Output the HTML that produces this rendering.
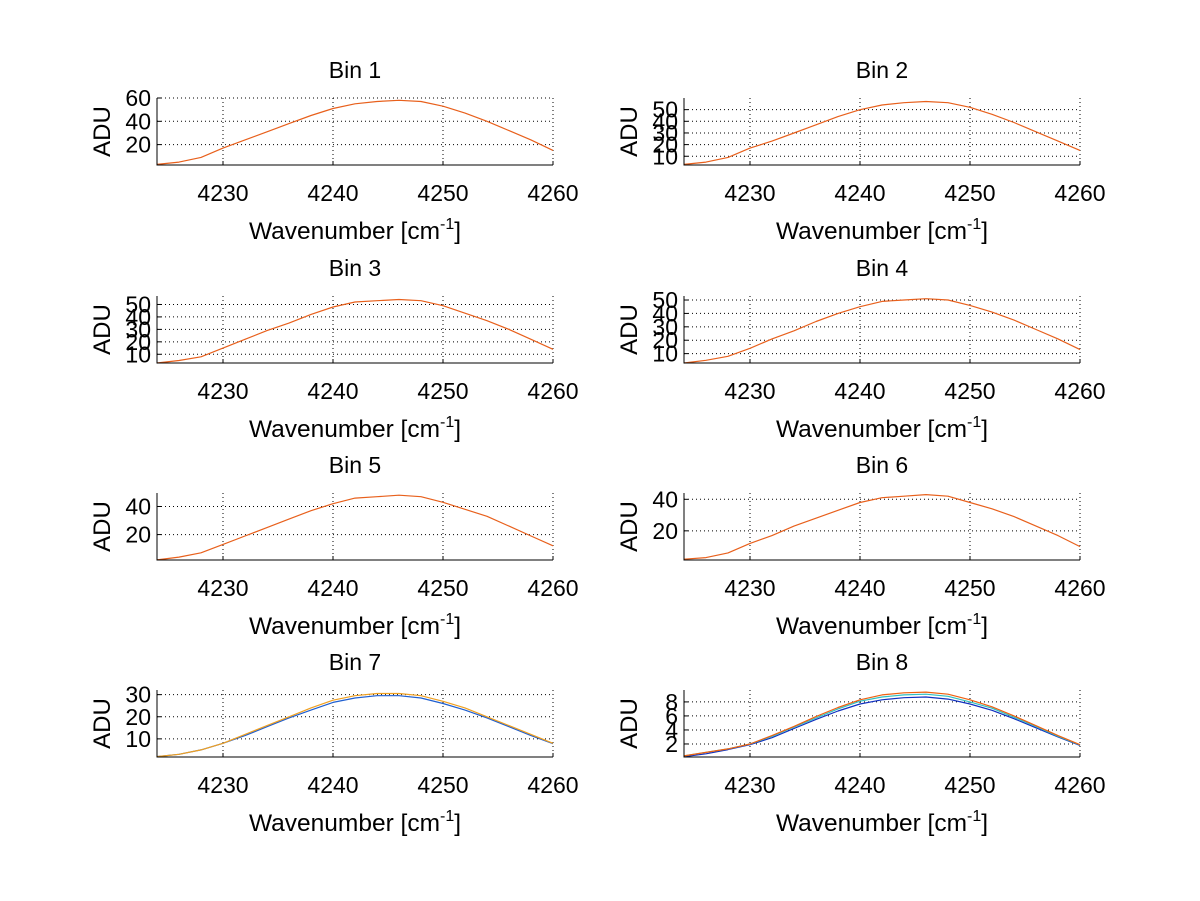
<!DOCTYPE html>
<html><head><meta charset="utf-8"><style>
body{margin:0;background:#fff}
svg{display:block}
text{font-family:"Liberation Sans",sans-serif;fill:#000}
</style></head><body>
<svg id="fig" width="1200" height="901" viewBox="0 0 1200 901" xmlns="http://www.w3.org/2000/svg"></svg>
<script>
const wavenumbers=[4224,4226,4228,4230,4232,4234,4236,4238,4240,4242,4244,4246,4248,4250,4252,4254,4256,4258,4260];
const xTicks=[4230,4240,4250,4260];
const bin1=[3,5,9,17,24,31,38,45,51,55,57,58,57,53,47,40,32,24,15];
const bin2=[3,5,9,17,23,30,37,44,50,54,56,57,56,52,46,39,31,23,15];
const bin3=[3,5,8,15,22,29,35,42,48,52,53,54,53,49,43,37,30,22,14];
const bin4=[3,5,8,14,21,27,34,40,45,49,50,51,50,46,41,35,28,21,13];
const bin5=[2,4,7,13,19,25,31,37,42,46,47,48,47,43,38,33,26,19,12];
const bin6=[2,3,6,12,17,23,28,33,38,41,42,43,42,38,34,29,23,17,10];
const bin7a=[2,3,5,8,12,16,20,24,27.5,29.5,30.5,30.5,29.5,27,24,20,16,12,8];
const bin7b=[2,3,5,8,11.5,15.5,19.5,23,26.5,28.5,29.5,29.5,28.5,26,23,19.5,15.5,11.5,7.8];
const bin8a=[0.3,0.8,1.3,2.0,3.2,4.5,5.9,7.2,8.3,9.0,9.3,9.4,9.1,8.3,7.3,6.0,4.6,3.2,1.9];
const bin8b=[0.3,0.8,1.3,2.0,3.1,4.4,5.7,7.0,8.1,8.7,9.0,9.1,8.8,8.0,7.1,5.8,4.5,3.1,1.85];
const bin8c=[0.2,0.6,1.2,1.9,2.9,4.2,5.5,6.7,7.7,8.3,8.6,8.7,8.4,7.7,6.8,5.6,4.3,3.0,1.8];
const yTicks=[[20,40,60],[10,20,30,40,50],[10,20,30,40,50],[10,20,30,40,50],[20,40],[20,40],[10,20,30],[2,4,6,8]];
const yLims=[[2.5,60],[2.5,60],[3,56.8],[3,53],[1.9,49.6],[1.5,44],[1.8,32.1],[0.14,9.7]];
const series=[[bin1],[bin2],[bin3],[bin4],[bin5],[bin6],[bin7b,bin7a],[bin8c,bin8b,bin8a]];
const colors=[["#e8601c"],["#e8601c"],["#e8601c"],["#e8601c"],["#e8601c"],["#e8601c"],["#1f5fd0","#f0a020"],["#1030c0","#30c0c0","#f06010"]];
const NS="http://www.w3.org/2000/svg";
const svg=document.getElementById('fig');
function el(t,a,p){const e=document.createElementNS(NS,t);for(const k in a)e.setAttribute(k,a[k]);(p||svg).appendChild(e);return e;}
const colX=[157,684], rowY=[98,296,493,690], W=396, H=67;
for(let i=0;i<8;i++){
  const c=i%2,r=Math.floor(i/2);
  const x0=colX[c],y0=rowY[r];
  const g=el('g',{});
  
  
  const [ymin,ymax]=yLims[i];
  const sx=v=>x0+(v-4224)/(4260-4224)*W;
  const sy=v=>y0+H-(v-ymin)/(ymax-ymin)*H;
  for(const t of xTicks){const l=el('line',{x1:sx(t),x2:sx(t),y1:y0,y2:y0+H,stroke:'#000','stroke-width':1,'stroke-dasharray':'1,3'},g);
    }
  for(const t of yTicks[i]){const l=el('line',{x1:x0,x2:x0+W,y1:sy(t),y2:sy(t),stroke:'#000','stroke-width':1,'stroke-dasharray':'1,3'},g);
    }
  series[i].forEach((s,k)=>{
    let d='';s.forEach((v,j)=>{d+=(j?'L':'M')+sx(wavenumbers[j]).toFixed(1)+','+sy(v).toFixed(1);});
    const p=el('path',{d:d,fill:'none',stroke:colors[i][k],'stroke-width':1.2,'stroke-linejoin':'round'},g);
    
  });
  const ax=el('path',{d:`M${x0},${y0}V${y0+H}H${x0+W}`,fill:'none',stroke:'#000','stroke-width':1},g);
  
  for(const t of xTicks){el('line',{x1:sx(t),x2:sx(t),y1:y0+H,y2:y0+H-4,stroke:'#000'},g);
    const tx=el('text',{x:sx(t),y:y0+H+36,'font-size':23,'text-anchor':'middle'},g);tx.textContent=t;
    }
  for(const t of yTicks[i]){el('line',{x1:x0,x2:x0+4,y1:sy(t),y2:sy(t),stroke:'#000'},g);
    const tx=el('text',{x:x0-6,y:sy(t)+8,'font-size':23,'text-anchor':'end'},g);tx.textContent=t;
    }
  const ti=el('text',{x:x0+W/2,y:y0-20,'font-size':23,'text-anchor':'middle'},g);ti.textContent='Bin '+(i+1);
  
  const yl=el('text',{x:0,y:0,'font-size':24,'text-anchor':'middle',transform:`translate(${x0-47},${y0+H/2}) rotate(-90)`},g);yl.textContent='ADU';
  
  const xl=el('text',{x:x0+W/2,y:y0+H+74,'font-size':24.5,'text-anchor':'middle'},g);
  xl.innerHTML='Wavenumber [cm<tspan dy="-10" font-size="16">-1</tspan><tspan dy="10">]</tspan>';
  
}
</script>
</body></html>
